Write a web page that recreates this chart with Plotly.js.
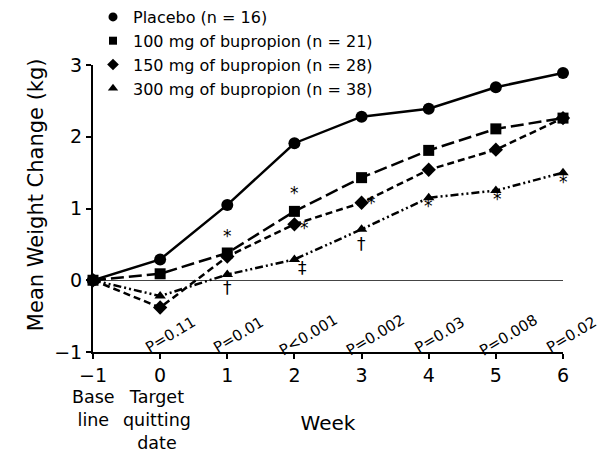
<!DOCTYPE html>
<html>
<head>
<meta charset="utf-8">
<script src="https://cdn.plot.ly/plotly-3.0.1.min.js"></script>
<style>html,body{margin:0;padding:0;background:#fff;}#chart{width:600px;height:454px;}</style>
</head>
<body>
<div id="chart"></div>
<script>
const weeks = [-1, 0, 1, 2, 3, 4, 5, 6];
const seriesNames = ["Placebo (n = 16)", "100 mg of bupropion (n = 21)", "150 mg of bupropion (n = 28)", "300 mg of bupropion (n = 38)"];
const placebo = [0, 0.29, 1.05, 1.91, 2.28, 2.39, 2.69, 2.89];
const bup100 = [0, 0.09, 0.38, 0.96, 1.43, 1.81, 2.11, 2.26];
const bup150 = [0, -0.38, 0.33, 0.78, 1.08, 1.54, 1.82, 2.26];
const bup300 = [0, -0.22, 0.08, 0.29, 0.71, 1.15, 1.25, 1.50];
const pLabels = ["P=0.11", "P=0.01", "P<0.001", "P=0.002", "P=0.03", "P=0.008", "P=0.02"];
const pWeeks = [0, 1, 2, 3, 4, 5, 6];
// significance marks
const sigWeeks = [1, 2, 2.15, 3.15, 4, 5.03, 6, 1, 3, 2.12];
const sigValues = [0.61, 1.21, 0.73, 1.07, 1.03, 1.13, 1.37, -0.11, 0.51, 0.17];
const sigSymbols = ["*", "*", "*", "*", "*", "*", "*", "†", "†", "‡"];

const FONT = "DejaVu Sans, Arial, sans-serif";
const values = [placebo, bup100, bup150, bup300];
const dashes = ["solid", "13px,5px", "7px,4px", "8px,3px,2px,3px,2px,3px"];
const symbols = ["circle", "square", "diamond", "triangle-up"];
const msize = [12, 11, 11, 10];
const lsize = [9, 8, 9, 9];
const pShift = [10, 11, 14, 14, 11, 13, 8];

const data = [];
values.forEach((v, i) => {
  data.push({
    x: weeks, y: v, mode: "lines", type: "scatter", showlegend: false,
    line: {color: "#000", width: 2.5, dash: dashes[i]}, cliponaxis: false, hoverinfo: "skip"
  });
});
values.forEach((v, i) => {
  data.push({
    x: weeks, y: v, mode: "markers", type: "scatter", showlegend: false, name: seriesNames[i],
    marker: {color: "#000", size: msize[i], symbol: symbols[i]}, cliponaxis: false
  });
});
// legend-only entries (small symbols as in the reference key)
seriesNames.forEach((n, i) => {
  data.push({
    x: [null], y: [null], mode: "markers", type: "scatter", name: n,
    marker: {color: "#000", size: lsize[i], symbol: symbols[i]}
  });
});

const annotations = [];
pLabels.forEach((t, i) => {
  annotations.push({x: pWeeks[i], xshift: pShift[i], y: -0.76, xref: "x", yref: "y", text: t, showarrow: false,
    textangle: -31, font: {family: FONT, size: 15, color: "#000"}});
});
sigSymbols.forEach((s, i) => {
  annotations.push({x: sigWeeks[i], y: sigValues[i], xref: "x", yref: "y", text: s, showarrow: false,
    font: {family: FONT, size: 17, color: "#000"}});
});
// bottom labels (paper coords: plot area spans 287px vertically)
const py = p => (352 - p) / 287;
annotations.push({x: -1, y: py(385), xref: "x", yref: "paper", yanchor: "top", xanchor: "center", text: "Base<br>line", showarrow: false,
  font: {family: FONT, size: 17.5, color: "#000"}});
annotations.push({x: -0.05, y: py(385), xref: "x", yref: "paper", yanchor: "top", xanchor: "center", text: "Target<br>quitting<br>date", showarrow: false,
  font: {family: FONT, size: 17.5, color: "#000"}});
annotations.push({x: -0.121, y: py(195), xref: "paper", yref: "paper", xanchor: "center", yanchor: "middle", text: "Mean Weight Change (kg)", showarrow: false,
  textangle: -90, font: {family: FONT, size: 21, color: "#000"}});

const layout = {
  width: 600, height: 454,
  margin: {l: 93, r: 37, t: 65, b: 102, autoexpand: false},
  paper_bgcolor: "#fff", plot_bgcolor: "#fff",
  font: {family: FONT, color: "#000"},
  showlegend: true,
  legend: {x: 0.0, y: 1.2265, xanchor: "left", yanchor: "top", bgcolor: "rgba(0,0,0,0)",
    font: {family: FONT, size: 16, color: "#000"}, itemwidth: 30, tracegroupgap: 0},
  xaxis: {
    range: [-1, 6], tickvals: weeks, showgrid: false, zeroline: false,
    showline: true, linecolor: "#000", linewidth: 2, ticks: "outside", ticklen: 5, tickwidth: 2, tickcolor: "#000",
    tickfont: {family: FONT, size: 19, color: "#000"},
    title: {text: "Week", font: {family: FONT, size: 20, color: "#000"}, standoff: 31}
  },
  yaxis: {
    range: [-1, 3], tickvals: [-1, 0, 1, 2, 3], showgrid: false,
    zeroline: true, zerolinecolor: "#444", zerolinewidth: 1.5,
    showline: true, linecolor: "#000", linewidth: 2, ticks: "outside", ticklen: 5, tickwidth: 2, tickcolor: "#000",
    tickfont: {family: FONT, size: 19, color: "#000"}
  },
  annotations: annotations
};

Plotly.newPlot("chart", data, layout, {displayModeBar: false, staticPlot: true});
</script>
</body>
</html>
